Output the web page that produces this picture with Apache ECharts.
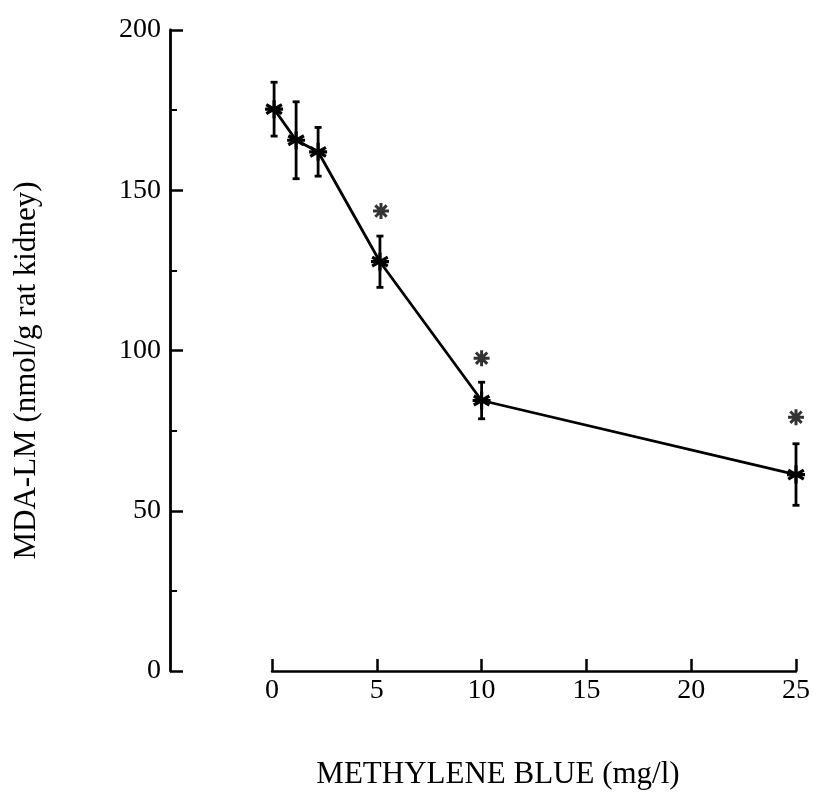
<!DOCTYPE html>
<html>
<head>
<meta charset="utf-8">
<script src="https://cdn.jsdelivr.net/npm/echarts@6/dist/echarts.min.js"></script>
<style>
html, body { margin: 0; padding: 0; background: #fff; }
#main { width: 813px; height: 795px; }
</style>
</head>
<body>
<div id="main"></div>
<script>
// methylene blue dose (mg/l) and MDA-LM level
var doses = [0.1, 1.15, 2.2, 5.15, 10, 25];
var mdaMean = [175.3, 165.6, 162, 127.7, 84.4, 61.3];
var mdaErr = [8.4, 12, 7.6, 8, 5.7, 9.6];
// significance asterisks above some points
var sigDoses = [5.2, 10, 25];
var sigLevels = [143.5, 97.6, 79.2];

var font = 'Liberation Serif';
var starPath = 'path://M0,-10L0,10M-8.66,-5L8.66,5M-8.66,5L8.66,-5M-10,0L10,0';
var sigPath = 'path://M0,-10L0,10M-7.07,-7.07L7.07,7.07M-7.07,7.07L7.07,-7.07M-10,0L10,0';

var dom = document.getElementById('main');
var myChart = echarts.init(dom);

var meanData = doses.map(function (d, i) { return [d, mdaMean[i]]; });
var errData = doses.map(function (d, i) { return [d, mdaMean[i] - mdaErr[i], mdaMean[i] + mdaErr[i]]; });
var sigData = sigDoses.map(function (d, i) { return [d, sigLevels[i]]; });

var option = {
    animation: false,
    backgroundColor: '#fff',
    grid: { left: 272, right: 14, top: 30, bottom: 122 },
    xAxis: {
        type: 'value',
        min: 0,
        max: 25,
        interval: 5,
        name: 'METHYLENE BLUE (mg/l)',
        nameLocation: 'middle',
        nameGap: 88,
        nameTextStyle: { fontFamily: font, fontSize: 31, color: '#000', padding: [0, 72, 0, 0] },
        axisLine: { onZero: false, lineStyle: { color: '#000', width: 2.5 } },
        axisTick: { inside: true, length: 12, lineStyle: { color: '#000', width: 2.5 } },
        axisLabel: { fontFamily: font, fontSize: 28, color: '#000', margin: 6 },
        splitLine: { show: false }
    },
    yAxis: {
        type: 'value',
        min: 0,
        max: 200,
        interval: 50,
        offset: 102,
        name: 'MDA-LM (nmol/g rat kidney)',
        nameLocation: 'middle',
        nameGap: 128,
        nameRotate: 90,
        nameTextStyle: { fontFamily: font, fontSize: 31, color: '#000', padding: [0, 40, 0, 0] },
        axisLine: { show: true, onZero: false, lineStyle: { color: '#000', width: 2.8 } },
        axisTick: { show: true, inside: true, length: 13, lineStyle: { color: '#000', width: 2.5 } },
        minorTick: { show: true, splitNumber: 2, length: 7, lineStyle: { color: '#000', width: 2 } },
        axisLabel: { fontFamily: font, fontSize: 28, color: '#000', margin: 9 },
        splitLine: { show: false }
    },
    series: [
        {
            type: 'custom',
            data: errData,
            z: 3,
            renderItem: function (params, api) {
                var x = api.value(0);
                var lo = api.coord([x, api.value(1)]);
                var hi = api.coord([x, api.value(2)]);
                var cap = 3.5;
                var style = { stroke: '#000', lineWidth: 2.8 };
                return {
                    type: 'group',
                    children: [
                        { type: 'line', shape: { x1: lo[0], y1: lo[1], x2: hi[0], y2: hi[1] }, style: style },
                        { type: 'line', shape: { x1: hi[0] - cap, y1: hi[1], x2: hi[0] + cap, y2: hi[1] }, style: style },
                        { type: 'line', shape: { x1: lo[0] - cap, y1: lo[1], x2: lo[0] + cap, y2: lo[1] }, style: style }
                    ]
                };
            }
        },
        {
            type: 'line',
            data: meanData,
            z: 4,
            symbol: starPath,
            symbolSize: 18,
            lineStyle: { color: '#000', width: 2.8 },
            itemStyle: { color: '#000', borderColor: '#000', borderWidth: 3.2 }
        },
        {
            type: 'scatter',
            data: sigData,
            z: 4,
            symbol: sigPath,
            symbolSize: 16,
            itemStyle: { color: '#000', borderColor: '#000', borderWidth: 3 }
        }
    ]
};

myChart.setOption(option);
</script>
</body>
</html>
